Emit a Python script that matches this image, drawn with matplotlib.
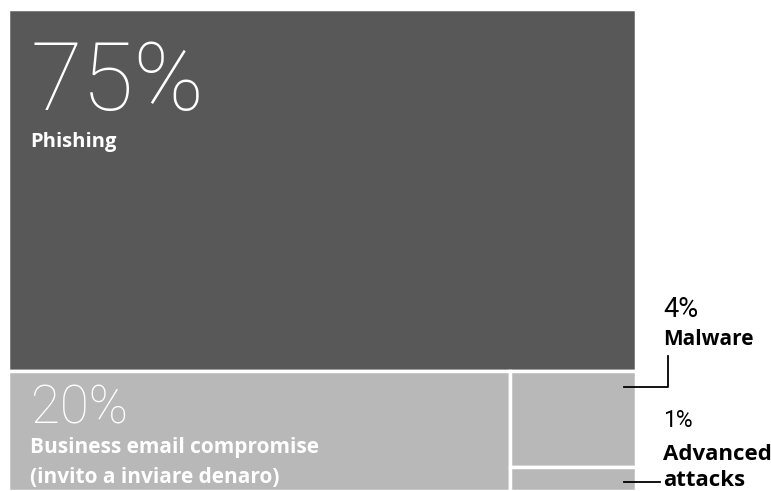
import matplotlib.pyplot as plt
from matplotlib.patches import Rectangle
from matplotlib.lines import Line2D

# email attack types (treemap)
categories = ["Phishing", "Business email compromise\n(invito a inviare denaro)", "Malware", "Advanced\nattacks"]
shares = [75, 20, 4, 1]
share_labels = ["75%", "20%", "4%", "1%"]
colors = ["#585858", "#b8b8b8", "#b8b8b8", "#b8b8b8"]

W, H = 771, 491
fig = plt.figure(figsize=(W / 100, H / 100), dpi=100)
plt.rcParams['font.family'] = ['Roboto', 'DejaVu Sans']
label_font = ['Open Sans', 'DejaVu Sans']

ax = fig.add_axes([8 / W, 0, (636 - 8) / W, 1 - 9 / H])
ax.set_xlim(0, 1)
ax.set_ylim(1, 0)
ax.axis('off')

# slice-and-dice layout: first item on top, rest in bottom row
total = sum(shares)
top_h = shares[0] / total
rects = [(0, 0, 1, top_h)]
rest = total - shares[0]
w1 = shares[1] / rest
rects.append((0, top_h, w1, 1 - top_h))
col = shares[2] + shares[3]
h2 = (1 - top_h) * shares[2] / col
rects.append((w1, top_h, 1 - w1, h2))
rects.append((w1, top_h + h2, 1 - w1, 1 - top_h - h2))

for (x, y, w, h), c in zip(rects, colors):
    ax.add_patch(Rectangle((x, y), w, h, facecolor=c, edgecolor='white', linewidth=2.5))


def px(x, y):
    return x / W, 1 - y / H


# labels inside the boxes
fig.text(*px(31, 110), share_labels[0], color='white', fontsize=68, fontweight='light')
fig.text(*px(30, 147), categories[0], color='white', fontsize=14.5, fontweight='bold', family=label_font)
fig.text(*px(31, 423), share_labels[1], color='white', fontsize=38, fontweight='light')
fig.text(*px(30, 453), categories[1].split("\n")[0], color='white', fontsize=15, fontweight='bold', family=label_font)
fig.text(*px(30, 483), categories[1].split("\n")[1], color='white', fontsize=15, fontweight='bold', family=label_font)

# labels outside, on the right
fig.text(*px(663, 317), share_labels[2], color='black', fontsize=19.5)
fig.text(*px(663, 345), categories[2], color='black', fontsize=15, fontweight='bold', family=label_font)
fig.text(*px(663, 427), share_labels[3], color='black', fontsize=16.5)
fig.text(*px(663, 460), categories[3].split("\n")[0], color='black', fontsize=16, fontweight='bold', family=label_font)
fig.text(*px(663, 486), categories[3].split("\n")[1], color='black', fontsize=16, fontweight='bold', family=label_font)

# leader lines
fig.add_artist(Line2D([624 / W, 668 / W, 668 / W], [1 - 387 / H, 1 - 387 / H, 1 - 356 / H],
                      color='black', linewidth=1.3))
fig.add_artist(Line2D([624 / W, 660 / W], [1 - 482 / H, 1 - 482 / H], color='black', linewidth=1.3))

fig.savefig("out.png", dpi=100)
